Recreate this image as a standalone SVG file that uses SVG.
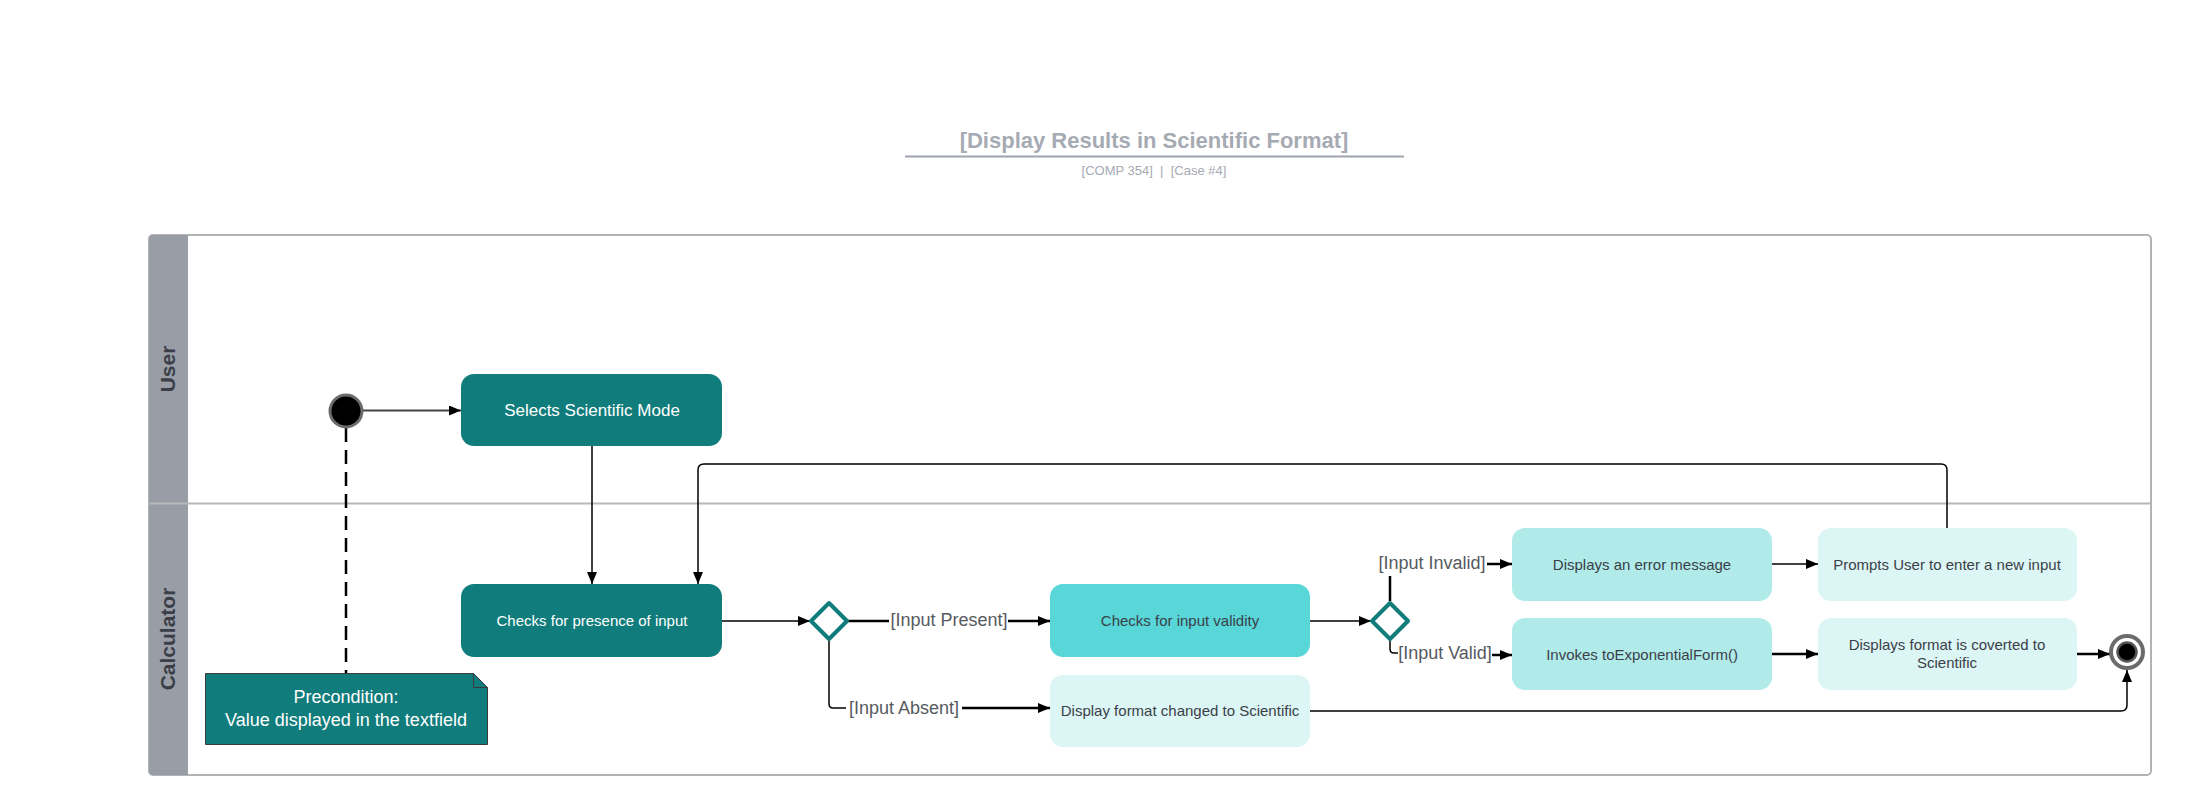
<svg xmlns="http://www.w3.org/2000/svg" width="2186" height="809" viewBox="0 0 2186 809">
<defs>
<style>
text{font-family:"Liberation Sans",Arial,sans-serif}
.title{font-size:22px;font-weight:bold;fill:#a6aab3}
.sub{font-size:13px;fill:#a6aab3;white-space:pre}
.lane{font-size:21px;font-weight:bold;fill:#3a3f47}
.dark{fill:#107c7b}
.cyan{fill:#58d6d8}
.mid{fill:#b0ebea}
.light{fill:#dcf5f5}
.wt{fill:#ffffff;font-size:15px}
.dt{fill:#3b3f48;font-size:15px}
.lbl{fill:#555a60;font-size:18px}
.ln{fill:none;stroke:#000;stroke-width:1.5}
.lt{fill:none;stroke:#000;stroke-width:2.5}
.dia{fill:#fff;stroke:#107c7b;stroke-width:4;stroke-linejoin:round}
</style>
<marker id="ah" viewBox="0 0 12 10" refX="12" refY="5" markerWidth="12" markerHeight="10" markerUnits="userSpaceOnUse" orient="auto">
<path d="M0,0 L12,5 L0,10 z" fill="#000"/>
</marker>
</defs>
<rect width="2186" height="809" fill="#fff"/>

<g id="title">
<text class="title" x="1154" y="148" text-anchor="middle">[Display Results in Scientific Format]</text>
<line x1="905" y1="156.5" x2="1404" y2="156.5" stroke="#9ea3ad" stroke-width="2"/>
<text class="sub" x="1154" y="175" text-anchor="middle" xml:space="preserve">[COMP 354]  |  [Case #4]</text>
</g>

<g id="pool">
<rect x="149" y="235" width="2002" height="540" rx="4" fill="#fff" stroke="#b3b3b3" stroke-width="2"/>
<path d="M153,235 H188 V775 H153 A4,4 0 0 1 149,771 V239 A4,4 0 0 1 153,235 z" fill="#989da6"/>
<line x1="149" y1="503.5" x2="2151" y2="503.5" stroke="#b8b8b8" stroke-width="2"/>
<text class="lane" transform="translate(175,369) rotate(-90)" text-anchor="middle">User</text>
<text class="lane" transform="translate(175,639) rotate(-90)" text-anchor="middle">Calculator</text>
</g>

<g id="connectors">
<line x1="362" y1="410.5" x2="461" y2="410.5" stroke="#444" stroke-width="2" marker-end="url(#ah)"/>
<line x1="346" y1="428" x2="346" y2="673" stroke="#000" stroke-width="2.5" stroke-dasharray="14,8"/>
<line class="ln" x1="592" y1="446" x2="592" y2="584" marker-end="url(#ah)"/>
<path class="ln" d="M1947,528 V470 Q1947,464 1941,464 H704 Q698,464 698,470 V584" stroke-width="2" marker-end="url(#ah)"/>
<line class="ln" x1="722" y1="621" x2="810" y2="621" marker-end="url(#ah)"/>
<line class="lt" x1="848" y1="621" x2="889" y2="621"/>
<line class="lt" x1="1008" y1="621" x2="1050" y2="621" marker-end="url(#ah)"/>
<path class="ln" d="M829,641 V704 Q829,708 833,708 H846" stroke-width="2"/>
<line class="lt" x1="962" y1="708" x2="1050" y2="708" marker-end="url(#ah)"/>
<line class="ln" x1="1310" y1="621" x2="1371" y2="621" marker-end="url(#ah)"/>
<line class="lt" x1="1390" y1="601" x2="1390" y2="576"/>
<line class="lt" x1="1487" y1="564" x2="1512" y2="564" marker-end="url(#ah)"/>
<path class="ln" d="M1390,641 V649 Q1390,653 1394,653 H1398" stroke-width="1.5"/>
<line class="lt" x1="1492" y1="655" x2="1512" y2="655" marker-end="url(#ah)"/>
<line class="ln" x1="1772" y1="564" x2="1818" y2="564" marker-end="url(#ah)"/>
<line class="lt" x1="1772" y1="654" x2="1818" y2="654" marker-end="url(#ah)"/>
<line class="lt" x1="2077" y1="654" x2="2110" y2="654" marker-end="url(#ah)"/>
<path class="ln" d="M1310,711 H2121 Q2127,711 2127,705 V670" stroke-width="2.5" marker-end="url(#ah)"/>
<text class="lbl" x="949" y="620" text-anchor="middle" dominant-baseline="central">[Input Present]</text>
<text class="lbl" x="904" y="708" text-anchor="middle" dominant-baseline="central">[Input Absent]</text>
<text class="lbl" x="1432" y="563" text-anchor="middle" dominant-baseline="central">[Input Invalid]</text>
<text class="lbl" x="1445" y="653" text-anchor="middle" dominant-baseline="central">[Input Valid]</text>
</g>

<g id="start">
<circle cx="346" cy="411" r="16" fill="#000" stroke="#6b6b6b" stroke-width="3"/>
</g>

<g id="selects">
<rect class="dark" x="461" y="374" width="261" height="72" rx="13"/>
<text class="wt" x="592" y="410" text-anchor="middle" dominant-baseline="central" style="font-size:17px">Selects Scientific Mode</text>
</g>

<g id="precondition">
<path d="M205.5,673.5 H473.5 L487.5,687.5 V744.5 H205.5 z" fill="#107c7b" stroke="#3a3a3a" stroke-width="1"/>
<path d="M473.5,673.5 V687.5 H487.5" fill="none" stroke="#3a3a3a" stroke-width="1"/>
<text x="346" y="697" text-anchor="middle" dominant-baseline="central" style="fill:#fff;font-size:18px">Precondition:</text>
<text x="346" y="720" text-anchor="middle" dominant-baseline="central" style="fill:#fff;font-size:18px">Value displayed in the textfield</text>
</g>

<g id="presence">
<rect class="dark" x="461" y="584" width="261" height="73" rx="13"/>
<text class="wt" x="592" y="620" text-anchor="middle" dominant-baseline="central">Checks for presence of input</text>
</g>

<g id="decision1">
<path class="dia" d="M829,603 L847,621 L829,639 L811,621 z"/>
</g>

<g id="validity">
<rect class="cyan" x="1050" y="584" width="260" height="73" rx="13"/>
<text class="dt" x="1180" y="620" text-anchor="middle" dominant-baseline="central">Checks for input validity</text>
</g>

<g id="displayformat">
<rect class="light" x="1050" y="675" width="260" height="72" rx="13"/>
<text class="dt" x="1180" y="710" text-anchor="middle" dominant-baseline="central">Display format changed to Scientific</text>
</g>

<g id="decision2">
<path class="dia" d="M1390,603 L1408,621 L1390,639 L1372,621 z"/>
</g>

<g id="error">
<rect class="mid" x="1512" y="528" width="260" height="73" rx="13"/>
<text class="dt" x="1642" y="564" text-anchor="middle" dominant-baseline="central">Displays an error message</text>
</g>

<g id="prompts">
<rect class="light" x="1818" y="528" width="259" height="73" rx="13"/>
<text class="dt" x="1947" y="564" text-anchor="middle" dominant-baseline="central">Prompts User to enter a new input</text>
</g>

<g id="invokes">
<rect class="mid" x="1512" y="618" width="260" height="72" rx="13"/>
<text class="dt" x="1642" y="654" text-anchor="middle" dominant-baseline="central">Invokes toExponentialForm()</text>
</g>

<g id="displays">
<rect class="light" x="1818" y="618" width="259" height="72" rx="13"/>
<text class="dt" x="1947" y="644" text-anchor="middle" dominant-baseline="central">Displays format is coverted to</text>
<text class="dt" x="1947" y="662" text-anchor="middle" dominant-baseline="central">Scientific</text>
</g>

<g id="end">
<circle cx="2127" cy="652" r="16" fill="#fff" stroke="#6b6b6b" stroke-width="4"/>
<circle cx="2127" cy="652" r="9.5" fill="#000" stroke="#555" stroke-width="2.5"/>
</g>
</svg>
